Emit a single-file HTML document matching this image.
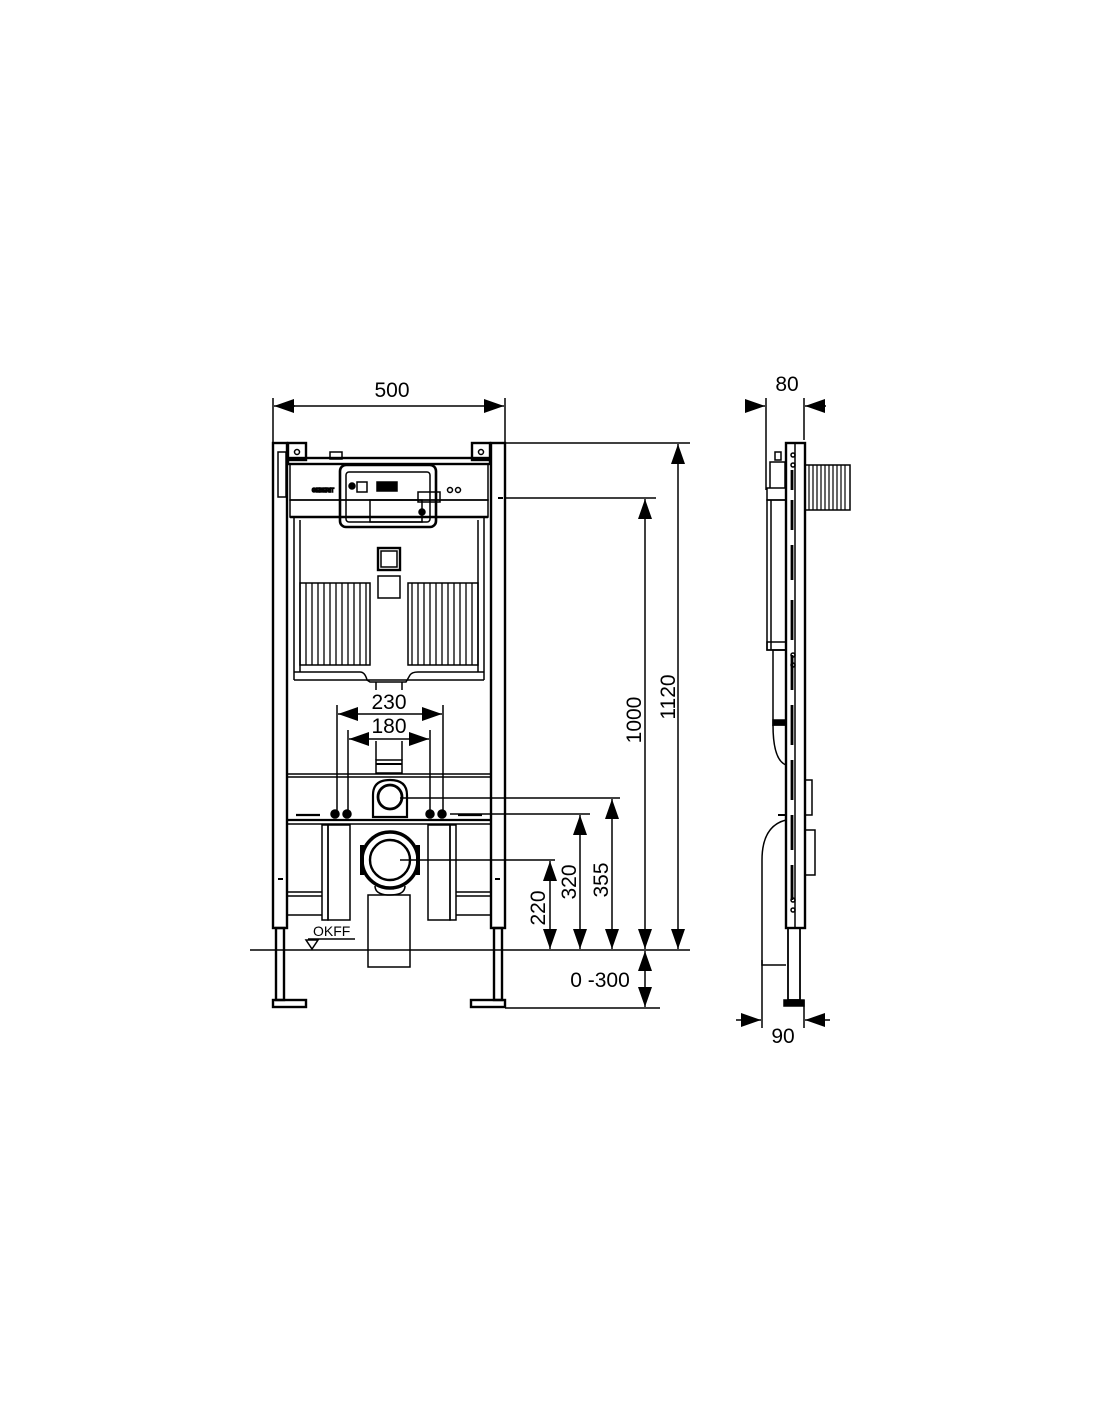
<!DOCTYPE html>
<html><head><meta charset="utf-8"><style>
html,body{margin:0;padding:0;background:#fff}
svg{display:block}
text{font-family:"Liberation Sans",Arial,sans-serif;font-size:21px;fill:#000}
</style></head><body>
<svg width="1100" height="1422" viewBox="0 0 1100 1422" xmlns="http://www.w3.org/2000/svg">
<defs>
<marker id="a" viewBox="0 0 20 14" refX="20" refY="7" markerWidth="20" markerHeight="14" markerUnits="userSpaceOnUse" orient="auto"><path d="M0,0L20,7L0,14z" fill="#000"/></marker>
</defs>
<text x="392" y="397" text-anchor="middle">500</text>
<g stroke="#000" fill="none" stroke-width="1.5">
<line x1="273" y1="398" x2="273" y2="442"/><line x1="505" y1="398" x2="505" y2="442"/>
<line x1="295" y1="406" x2="274" y2="406" marker-end="url(#a)"/>
<line x1="290" y1="406" x2="504" y2="406" marker-end="url(#a)"/>
<g stroke-width="2.4">
<rect x="273" y="443" width="14" height="485"/>
<rect x="491" y="443" width="14" height="485"/>
<rect x="276" y="928" width="8" height="72"/>
<rect x="494" y="928" width="8" height="72"/>
<rect x="273" y="1000" width="33" height="7"/>
<rect x="471" y="1000" width="34" height="7"/>
<rect x="288" y="443" width="18" height="17"/>
<rect x="472" y="443" width="18" height="17"/>
</g>
<circle cx="297" cy="452" r="2.5"/><circle cx="481" cy="452" r="2.5"/>
<rect x="278" y="452" width="8" height="45"/>
<rect x="330" y="452" width="12" height="7"/>
<rect x="288" y="458" width="202" height="6" stroke-width="2.4"/>
<rect x="290" y="464" width="198" height="36"/>
<rect x="290" y="500" width="198" height="17"/>
<line x1="290" y1="517" x2="488" y2="517" stroke-width="2.4"/>
<text x="312" y="492" style="font-size:5px">GEBERIT</text>
<circle cx="450" cy="490" r="2.5"/><circle cx="458" cy="490" r="2.5"/>
<rect x="340" y="465" width="96" height="62" rx="6" stroke-width="2.6"/>
<rect x="346" y="472" width="84" height="50" rx="3"/>
<rect x="357" y="482" width="10" height="10"/>
<rect x="377" y="482" width="20" height="9" fill="#000"/>
<rect x="370" y="500" width="52" height="22"/>
<rect x="418" y="492" width="22" height="10"/>
<circle cx="352" cy="486" r="3" fill="#000"/>
<circle cx="422" cy="512" r="3" fill="#000"/>
<line x1="294" y1="517" x2="294" y2="680"/><line x1="484" y1="517" x2="484" y2="680"/>
<line x1="300" y1="520" x2="300" y2="672"/><line x1="478" y1="520" x2="478" y2="672"/>
<rect x="378" y="548" width="22" height="22" stroke-width="2.4"/>
<rect x="381" y="551" width="16" height="16"/>
<rect x="378" y="576" width="22" height="22"/>
<path d="M300,583 H370 V665 H300 Z"/>
<path d="M408,583 H478 V665 H408 Z"/>
<g stroke-width="1.3">
<line x1="306" y1="583" x2="306" y2="665"/><line x1="312" y1="583" x2="312" y2="665"/><line x1="318" y1="583" x2="318" y2="665"/><line x1="324" y1="583" x2="324" y2="665"/><line x1="330" y1="583" x2="330" y2="665"/><line x1="336" y1="583" x2="336" y2="665"/><line x1="342" y1="583" x2="342" y2="665"/><line x1="348" y1="583" x2="348" y2="665"/><line x1="354" y1="583" x2="354" y2="665"/><line x1="360" y1="583" x2="360" y2="665"/><line x1="366" y1="583" x2="366" y2="665"/>
<line x1="412" y1="583" x2="412" y2="665"/><line x1="418" y1="583" x2="418" y2="665"/><line x1="424" y1="583" x2="424" y2="665"/><line x1="430" y1="583" x2="430" y2="665"/><line x1="436" y1="583" x2="436" y2="665"/><line x1="442" y1="583" x2="442" y2="665"/><line x1="448" y1="583" x2="448" y2="665"/><line x1="454" y1="583" x2="454" y2="665"/><line x1="460" y1="583" x2="460" y2="665"/><line x1="466" y1="583" x2="466" y2="665"/><line x1="472" y1="583" x2="472" y2="665"/>
</g>
<path d="M294,672 H360 Q365,672 367,680 L370,682 H406 L410,675 Q412,672 418,672 H484"/>
<line x1="294" y1="680" x2="484" y2="680"/>
<line x1="376" y1="682" x2="376" y2="690"/><line x1="402" y1="682" x2="402" y2="690"/>
<text x="389" y="709" text-anchor="middle" stroke="none">230</text>
<text x="389" y="733" text-anchor="middle" stroke="none">180</text>
<line x1="337" y1="705" x2="337" y2="812"/><line x1="443" y1="705" x2="443" y2="812"/>
<line x1="348" y1="730" x2="348" y2="812"/><line x1="430" y1="730" x2="430" y2="812"/>
<line x1="390" y1="714" x2="338" y2="714" marker-end="url(#a)"/><line x1="390" y1="714" x2="442" y2="714" marker-end="url(#a)"/>
<line x1="390" y1="739" x2="349" y2="739" marker-end="url(#a)"/><line x1="390" y1="739" x2="429" y2="739" marker-end="url(#a)"/>
<line x1="376" y1="741" x2="376" y2="760"/><line x1="402" y1="741" x2="402" y2="760"/>
<rect x="376" y="760" width="26" height="13"/>
<line x1="376" y1="764" x2="402" y2="764" stroke-width="2"/>
<line x1="288" y1="774" x2="490" y2="774"/><line x1="288" y1="777" x2="490" y2="777"/>
<line x1="288" y1="820" x2="490" y2="820" stroke-width="2.2"/><line x1="288" y1="824" x2="490" y2="824"/>
<path d="M373,817 V795 Q373,780 390,780 Q407,780 407,795 V817 Z" stroke-width="2.2"/>
<circle cx="390" cy="797" r="12" stroke-width="2.8"/>
<line x1="296" y1="815" x2="320" y2="815" stroke-width="2.2"/><line x1="458" y1="815" x2="482" y2="815" stroke-width="2.2"/>
<circle cx="335" cy="814" r="4" fill="#000"/><circle cx="347" cy="814" r="4" fill="#000"/>
<circle cx="430" cy="814" r="4" fill="#000"/><circle cx="442" cy="814" r="4" fill="#000"/>
<circle cx="390" cy="860" r="28" stroke-width="3.5"/>
<circle cx="390" cy="860" r="20" stroke-width="2.4"/>
<path d="M362,845 V875 M418,845 V875" stroke-width="4"/>
<path d="M375,886 Q375,895 390,895 Q405,895 405,886"/>
<rect x="368" y="895" width="42" height="72"/>
<rect x="322" y="825" width="6" height="95"/><rect x="328" y="825" width="22" height="95"/>
<rect x="428" y="825" width="22" height="95"/><rect x="450" y="825" width="6" height="95"/>
<line x1="288" y1="892" x2="322" y2="892"/><line x1="288" y1="896" x2="322" y2="896"/>
<line x1="456" y1="892" x2="490" y2="892"/><line x1="456" y1="896" x2="490" y2="896"/>
<line x1="288" y1="915" x2="322" y2="915"/><line x1="456" y1="915" x2="490" y2="915"/>
<line x1="278" y1="879" x2="283" y2="879" stroke-width="2"/><line x1="495" y1="879" x2="500" y2="879" stroke-width="2"/>
<line x1="498" y1="498" x2="503" y2="498" stroke-width="2"/>
<line x1="250" y1="950" x2="690" y2="950"/>
<line x1="308" y1="939" x2="355" y2="939"/>
<path d="M306,940 L318,940 L312,949 Z"/>
<text x="313" y="936" stroke="none" style="font-size:14px">OKFF</text>
<line x1="505" y1="443" x2="690" y2="443"/>
<line x1="505" y1="498" x2="656" y2="498"/>
<line x1="400" y1="798" x2="620" y2="798"/>
<line x1="450" y1="814" x2="590" y2="814"/>
<line x1="400" y1="860" x2="555" y2="860"/>
<line x1="505" y1="1008" x2="660" y2="1008"/>
<line x1="678" y1="700" x2="678" y2="444" marker-end="url(#a)"/><line x1="678" y1="700" x2="678" y2="949" marker-end="url(#a)"/>
<line x1="645" y1="700" x2="645" y2="499" marker-end="url(#a)"/><line x1="645" y1="700" x2="645" y2="949" marker-end="url(#a)"/>
<line x1="612" y1="880" x2="612" y2="799" marker-end="url(#a)"/><line x1="612" y1="880" x2="612" y2="949" marker-end="url(#a)"/>
<line x1="580" y1="880" x2="580" y2="815" marker-end="url(#a)"/><line x1="580" y1="880" x2="580" y2="949" marker-end="url(#a)"/>
<line x1="550" y1="905" x2="550" y2="861" marker-end="url(#a)"/><line x1="550" y1="905" x2="550" y2="949" marker-end="url(#a)"/>
<line x1="645" y1="980" x2="645" y2="951" marker-end="url(#a)"/><line x1="645" y1="980" x2="645" y2="1007" marker-end="url(#a)"/>
</g>
<g stroke="none">
<text transform="translate(675,697) rotate(-90)" text-anchor="middle">1120</text>
<text transform="translate(641,720) rotate(-90)" text-anchor="middle">1000</text>
<text transform="translate(608,880) rotate(-90)" text-anchor="middle">355</text>
<text transform="translate(576,882) rotate(-90)" text-anchor="middle">320</text>
<text transform="translate(545,908) rotate(-90)" text-anchor="middle">220</text>
<text x="600" y="987" text-anchor="middle">0 -300</text>
<text x="787" y="391" text-anchor="middle">80</text>
<text x="783" y="1043" text-anchor="middle">90</text>
</g>
<g stroke="#000" fill="none" stroke-width="1.5">
<line x1="766" y1="398" x2="766" y2="490"/><line x1="804" y1="398" x2="804" y2="440"/>
<line x1="746" y1="406" x2="765" y2="406" marker-end="url(#a)"/>
<line x1="826" y1="406" x2="805" y2="406" marker-end="url(#a)"/>
<rect x="786" y="443" width="19" height="485" stroke-width="2.4"/>
<line x1="795" y1="443" x2="795" y2="928"/>
<rect x="788" y="928" width="12" height="72" stroke-width="1.8"/>
<rect x="784" y="1000" width="20" height="6" fill="#000"/>
<g stroke-width="2.8">
<line x1="792" y1="470" x2="792" y2="490"/><line x1="792" y1="500" x2="792" y2="530"/><line x1="792" y1="545" x2="792" y2="580"/><line x1="792" y1="600" x2="792" y2="640"/><line x1="792" y1="655" x2="792" y2="690"/><line x1="792" y1="705" x2="792" y2="745"/><line x1="792" y1="760" x2="792" y2="800"/><line x1="792" y1="815" x2="792" y2="850"/><line x1="792" y1="865" x2="792" y2="900"/>
</g>
<circle cx="793" cy="455" r="2"/><circle cx="793" cy="465" r="2"/><circle cx="793" cy="655" r="2"/><circle cx="793" cy="665" r="2"/><circle cx="793" cy="900" r="2"/><circle cx="793" cy="910" r="2"/>
<rect x="805" y="465" width="45" height="45"/>
<g stroke-width="1.2">
<line x1="809" y1="465" x2="809" y2="510"/><line x1="813" y1="465" x2="813" y2="510"/><line x1="817" y1="465" x2="817" y2="510"/><line x1="821" y1="465" x2="821" y2="510"/><line x1="825" y1="465" x2="825" y2="510"/><line x1="829" y1="465" x2="829" y2="510"/><line x1="833" y1="465" x2="833" y2="510"/><line x1="837" y1="465" x2="837" y2="510"/><line x1="841" y1="465" x2="841" y2="510"/><line x1="845" y1="465" x2="845" y2="510"/>
</g>
<rect x="775" y="452" width="6" height="8"/>
<path d="M770,488 V462 H785 V488"/>
<rect x="767" y="488" width="19" height="12"/>
<rect x="767" y="500" width="19" height="150"/>
<line x1="771" y1="500" x2="771" y2="650"/>
<rect x="767" y="642" width="19" height="8"/>
<rect x="773" y="650" width="13" height="75"/>
<rect x="773" y="720" width="13" height="5" fill="#000"/>
<path d="M773,725 Q773,760 786,765"/>
<rect x="805" y="780" width="7" height="35"/><rect x="805" y="830" width="10" height="45"/>
<line x1="778" y1="815" x2="786" y2="815" stroke-width="2"/>
<path d="M786,820 Q762,826 762,860 V965 H786"/>
<line x1="762" y1="960" x2="762" y2="1028"/><line x1="804" y1="1000" x2="804" y2="1028"/>
<line x1="736" y1="1020" x2="761" y2="1020" marker-end="url(#a)"/>
<line x1="830" y1="1020" x2="805" y2="1020" marker-end="url(#a)"/>
</g>
</svg>
</body></html>
